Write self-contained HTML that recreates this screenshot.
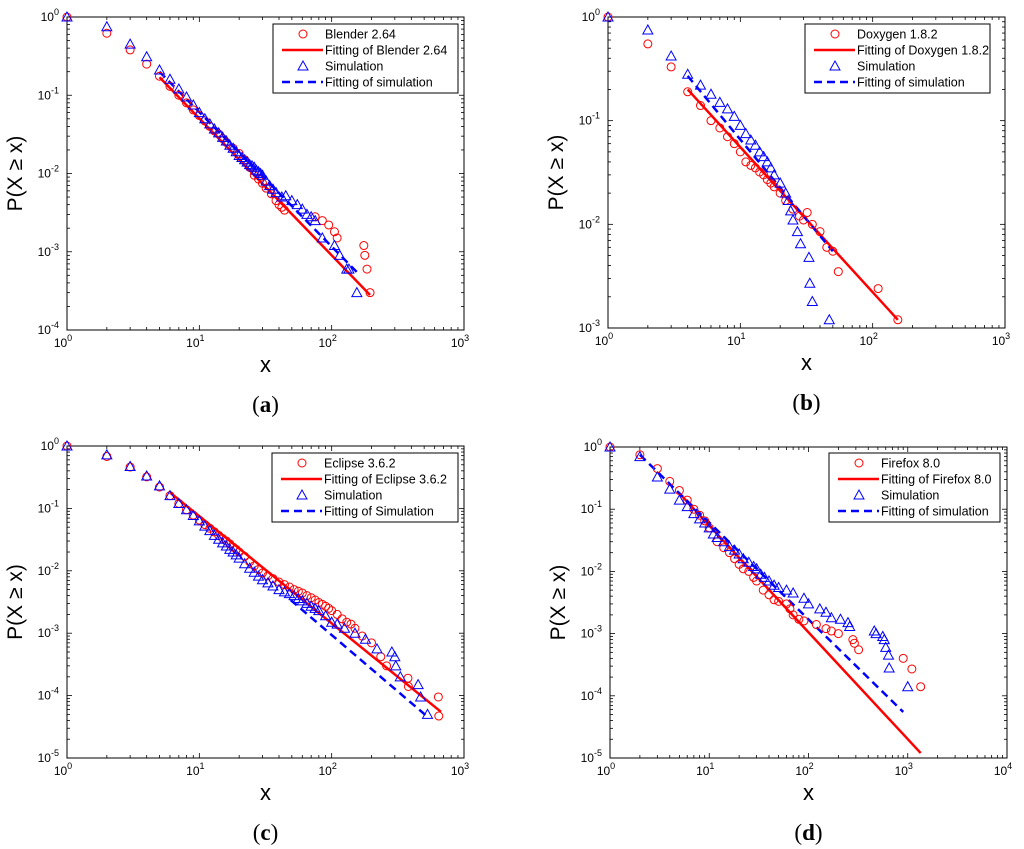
<!DOCTYPE html>
<html><head><meta charset="utf-8">
<style>
html,body{margin:0;padding:0;background:#fff;}
svg{display:block;font-family:"Liberation Sans",sans-serif;}
</style></head>
<body>
<svg id="fig" width="1024" height="849" viewBox="0 0 1024 849" xmlns="http://www.w3.org/2000/svg"></svg>
<script>
// ---- Data ----
const aCircles=[[1,1],[2,0.62],[3,0.38],[4,0.25],[5,0.175],[6,0.13],[7,0.1],[8,0.08],[9,0.065],[10,0.055],[11,0.047],[12,0.04],[13,0.035],[14,0.032],[15,0.028],[16,0.025],[18,0.021],[20,0.018],[22,0.015],[24,0.012],[26,0.0095],[28,0.0085],[30,0.0075],[32,0.0065],[35,0.0055],[38,0.0045],[40,0.004],[42,0.0037],[44,0.0034],[75,0.0028],[85,0.0025],[95,0.0022],[105,0.0018],[110,0.0015],[175,0.0012],[178,0.0009],[185,0.0006],[195,0.0003]];
const aTriangles=[[1,1],[2,0.75],[3,0.45],[4,0.31],[5,0.21],[6,0.16],[7,0.12],[8,0.095],[9,0.075],[10,0.06],[11,0.05],[12,0.043],[13,0.037],[14,0.033],[15,0.029],[16,0.026],[17,0.023],[18,0.021],[19,0.019],[20,0.017],[21,0.016],[22,0.015],[23,0.014],[24,0.013],[25,0.0125],[26,0.012],[27,0.011],[28,0.0105],[29,0.01],[30,0.0095],[32,0.008],[34,0.007],[36,0.0063],[38,0.0057],[42,0.005],[45,0.0052],[50,0.0045],[55,0.004],[60,0.0035],[65,0.003],[70,0.0028],[75,0.0025],[85,0.0015],[105,0.0012],[115,0.0009],[130,0.0006],[135,0.0006],[155,0.0003]];
const aFitData=[[5,0.17],[195,0.00028]];
const aFitSim=[[5,0.2],[155,0.00055]];

const bCircles=[[1,1],[2,0.55],[3,0.33],[4,0.19],[5,0.14],[6,0.1],[7,0.085],[8,0.07],[9,0.06],[10,0.05],[11,0.04],[12,0.037],[13,0.035],[14,0.032],[15,0.03],[16,0.027],[17,0.025],[18,0.023],[20,0.02],[22,0.017],[25,0.014],[28,0.012],[30,0.011],[32,0.013],[35,0.01],[40,0.0085],[45,0.006],[50,0.0055],[55,0.0035],[110,0.0024],[155,0.0012]];
const bTriangles=[[1,1],[2,0.75],[3,0.42],[4,0.28],[5,0.22],[6,0.18],[7,0.15],[8,0.13],[9,0.11],[10,0.09],[11,0.075],[12,0.065],[13,0.058],[14,0.05],[15,0.045],[16,0.04],[17,0.035],[18,0.03],[20,0.025],[22,0.02],[23,0.017],[24,0.0135],[25,0.011],[27,0.0085],[28.5,0.0065],[33,0.0048],[33.5,0.0027],[35,0.0018],[47,0.0012]];
const bFitData=[[4,0.2],[155,0.0012]];
const bFitSim=[[4,0.27],[50,0.0055]];

const cCircles=[[1,1],[2,0.68],[3,0.46],[4,0.32],[5,0.22],[6,0.16],[7,0.12],[8,0.095],[9,0.078],[10,0.065],[11,0.055],[12,0.048],[13,0.042],[14,0.037],[15,0.033],[16,0.03],[17,0.027],[18,0.024],[19,0.022],[20,0.02],[22,0.017],[24,0.014],[26,0.012],[28,0.0105],[30,0.0092],[33,0.0083],[36,0.0075],[40,0.0066],[44,0.006],[48,0.0055],[52,0.005],[56,0.0047],[60,0.0044],[65,0.004],[70,0.0037],[75,0.0034],[80,0.0031],[85,0.0029],[90,0.0027],[95,0.0025],[100,0.0023],[110,0.002],[120,0.0017],[130,0.0015],[140,0.0014],[150,0.0012],[170,0.0009],[200,0.0007],[235,0.00042],[260,0.0003],[377,0.00019],[380,0.00014],[640,0.000095],[645,0.000047]];
const cTriangles=[[1,1],[2,0.72],[3,0.47],[4,0.33],[5,0.23],[6,0.16],[7,0.12],[8,0.095],[9,0.077],[10,0.063],[11,0.052],[12,0.044],[13,0.037],[14,0.032],[15,0.028],[16,0.025],[17,0.022],[18,0.02],[19,0.018],[20,0.016],[22,0.013],[24,0.011],[26,0.0095],[28,0.0082],[30,0.0072],[33,0.0064],[36,0.0057],[40,0.005],[44,0.0046],[48,0.0043],[52,0.004],[56,0.0036],[60,0.0033],[65,0.003],[70,0.0027],[75,0.0025],[80,0.0023],[90,0.0019],[100,0.0015],[110,0.0014],[125,0.0012],[150,0.001],[180,0.0008],[220,0.00056],[285,0.0005],[300,0.00042],[305,0.0003],[330,0.0002],[450,0.00015],[470,0.000095],[530,0.00005]];
const cFitData=[[6,0.18],[670,0.000055]];
const cFitSim=[[49,0.0034],[535,0.000045]];

const dCircles=[[1,1],[2,0.75],[3,0.45],[4,0.28],[5,0.2],[6,0.14],[7,0.1],[8,0.08],[9,0.065],[10,0.05],[12,0.03],[14,0.024],[16,0.02],[18,0.016],[20,0.013],[22,0.011],[25,0.01],[28,0.008],[30,0.007],[35,0.005],[40,0.0042],[45,0.0035],[50,0.0033],[60,0.003],[65,0.0025],[70,0.002],[80,0.0017],[90,0.0016],[120,0.0014],[150,0.0012],[170,0.0011],[200,0.001],[280,0.0008],[290,0.0007],[320,0.00055],[900,0.0004],[1100,0.00027],[1350,0.00014]];
const dTriangles=[[1,1],[2,0.7],[3,0.33],[4,0.21],[5,0.14],[6,0.11],[7,0.085],[8,0.07],[9,0.06],[10,0.05],[11,0.04],[12,0.035],[14,0.03],[16,0.025],[18,0.022],[20,0.019],[22,0.016],[25,0.014],[28,0.012],[30,0.011],[33,0.009],[36,0.008],[40,0.007],[45,0.006],[50,0.0055],[60,0.005],[70,0.0045],[90,0.0037],[100,0.003],[130,0.0025],[150,0.0022],[170,0.0018],[210,0.0017],[250,0.0015],[260,0.0013],[460,0.0011],[480,0.001],[560,0.0009],[580,0.0008],[600,0.0006],[640,0.00045],[650,0.00028],[1000,0.00014]];
const dFitData=[[5,0.18],[1350,0.000012]];
const dFitSim=[[2,0.75],[900,0.000055]];

const NS="http://www.w3.org/2000/svg";
const svg=document.getElementById('fig');
function mk(tag,attrs,parent){const e=document.createElementNS(NS,tag);for(const k in attrs)e.setAttribute(k,attrs[k]);(parent||svg).appendChild(e);return e;}

function panel(id,box,xDec,yMin,circles,tris,fitD,fitS,legend,letter){
  const g=mk('g',{});
  
  
  const [L,T,R,B]=box;
  const sx=v=>L+(Math.log10(v)/xDec)*(R-L);
  const sy=v=>T+(Math.log10(v)/yMin)*(B-T);
  for(let d=0;d<=xDec;d++){
    for(let m=1;m<10;m++){
      if(d===xDec&&m>1)break;
      const x=sx(m*Math.pow(10,d)); const len=m===1?5:3;
      mk('line',{x1:x,y1:B,x2:x,y2:B-len,stroke:'#000','stroke-width':0.8},g);
      mk('line',{x1:x,y1:T,x2:x,y2:T+len,stroke:'#000','stroke-width':0.8},g);
    }
    const t=mk('text',{x:sx(Math.pow(10,d))-4,y:B+17,'font-size':12,'text-anchor':'middle'},g);
    
    
    t.innerHTML='10<tspan dy="-6" font-size="9">'+d+'</tspan>';
  }
  for(let e=yMin;e<=0;e++){
    for(let m=1;m<10;m++){
      if(e===0&&m>1)break;
      const y=sy(m*Math.pow(10,e)); const len=m===1?5:3;
      mk('line',{x1:L,y1:y,x2:L+len,y2:y,stroke:'#000','stroke-width':0.8},g);
      mk('line',{x1:R,y1:y,x2:R-len,y2:y,stroke:'#000','stroke-width':0.8},g);
    }
    const t=mk('text',{x:L-8,y:sy(Math.pow(10,e))+4,'font-size':12,'text-anchor':'end'},g);
    
    
    t.innerHTML='10<tspan dy="-6" font-size="9">'+e+'</tspan>';
  }
  const frame=mk('rect',{x:L,y:T,width:R-L,height:B-T,fill:'none',stroke:'#000','stroke-width':1},g);
  
  
  const fl=mk('line',{x1:sx(fitD[0][0]),y1:sy(fitD[0][1]),x2:sx(fitD[1][0]),y2:sy(fitD[1][1]),stroke:'#f00','stroke-width':2.5},g);
  
  
  const fs=mk('line',{x1:sx(fitS[0][0]),y1:sy(fitS[0][1]),x2:sx(fitS[1][0]),y2:sy(fitS[1][1]),stroke:'#00f','stroke-width':2.5,'stroke-dasharray':'8,5'},g);
  
  
  circles.forEach(p=>{
    const c=mk('circle',{cx:sx(p[0]),cy:sy(p[1]),r:4,fill:'none',stroke:'#f00','stroke-width':1},g);
    
    
  });
  tris.forEach(p=>{
    const x=sx(p[0]),y=sy(p[1]);
    const t=mk('polygon',{points:`${x},${y-5} ${x-5},${y+4} ${x+5},${y+4}`,fill:'none',stroke:'#00f','stroke-width':1},g);
    
    
  });
  const lx=legend[0],ly=legend[1],lw=legend[2];
  const lg=mk('g',{},g);
  
  
  mk('rect',{x:lx,y:ly,width:lw,height:69,fill:'#fff',stroke:'#000','stroke-width':1},lg);
  const rows=legend[3];
  rows.forEach((txt,i)=>{
    const y=ly+10+i*16;
    if(i===0)mk('circle',{cx:lx+30,cy:y,r:4,fill:'none',stroke:'#f00'},lg);
    if(i===1)mk('line',{x1:lx+9,y1:y,x2:lx+50,y2:y,stroke:'#f00','stroke-width':2.5},lg);
    if(i===2)mk('polygon',{points:`${lx+30},${y-5} ${lx+25},${y+4} ${lx+35},${y+4}`,fill:'none',stroke:'#00f'},lg);
    if(i===3)mk('line',{x1:lx+9,y1:y,x2:lx+50,y2:y,stroke:'#00f','stroke-width':2.5,'stroke-dasharray':'8,5'},lg);
    const t=mk('text',{x:lx+52,y:y+4.5,'font-size':12.5},lg);
    
    
    t.textContent=txt;
  });
  const xl=mk('text',{x:(L+R)/2,y:B+42,'font-size':22,'text-anchor':'middle'},g);
  
  
  xl.textContent='x';
  const cy=(T+B)/2;
  const yl=mk('text',{x:L-45,y:cy,'font-size':21,'text-anchor':'middle',transform:`rotate(-90 ${L-45} ${cy})`},g);
  
  
  yl.textContent='P(X \u2265 x)';
  const sl=mk('text',{x:(L+R)/2,y:B+82,'font-size':23,'text-anchor':'middle','font-family':'"Liberation Serif",serif'},g);
  
  
  sl.innerHTML='(<tspan font-weight="bold">'+letter+'</tspan>)';
}

panel('a',[67,17,464,330],3,-4,aCircles,aTriangles,aFitData,aFitSim,[273,24,185,['Blender 2.64','Fitting of Blender 2.64','Simulation','Fitting of simulation']],'a');
panel('b',[608,17,1005,328],3,-3,bCircles,bTriangles,bFitData,bFitSim,[805,24,185,['Doxygen 1.8.2','Fitting of Doxygen 1.8.2','Simulation','Fitting of simulation']],'b');
panel('c',[67,446,464,758],3,-5,cCircles,cTriangles,cFitData,cFitSim,[272,453,186,['Eclipse 3.6.2','Fitting of Eclipse 3.6.2','Simulation','Fitting of Simulation']],'c');
panel('d',[610,447,1007,758],4,-5,dCircles,dTriangles,dFitData,dFitSim,[829,453,171,['Firefox 8.0','Fitting of Firefox 8.0','Simulation','Fitting of simulation']],'d');
</script>
</body></html>
